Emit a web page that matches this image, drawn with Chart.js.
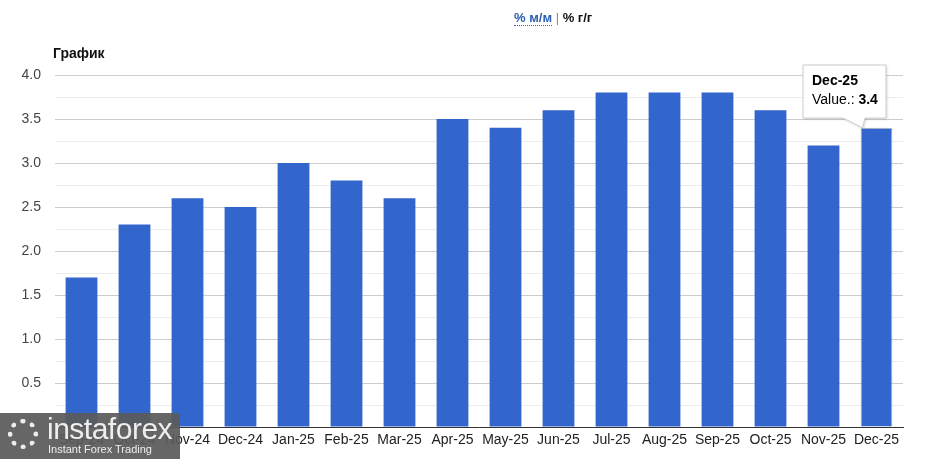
<!DOCTYPE html>
<html>
<head>
<meta charset="utf-8">
<script src="https://cdn.jsdelivr.net/npm/chart.js@4"></script>
<style>
    html, body { margin: 0; padding: 0; background: #fff; }
    #wrap { position: relative; width: 940px; height: 459px; font-family: Arial, "Liberation Sans", sans-serif; }
    #chart { position: absolute; left: 0; top: 0; }
    #toggle { position: absolute; left: 514px; top: 10px; font-size: 13px; font-weight: bold; }
    #toggle .mm { color: #2a5db0; border-bottom: 1px dotted #2a5db0; }
    #toggle .sep { color: #c08030; font-weight: normal; }
    #toggle .yy { color: #111; }
    #title { position: absolute; left: 53px; top: 45px; font-size: 14px; font-weight: bold; color: #111; }
    #logo { position: absolute; left: 0; top: 413px; width: 180px; height: 46px; background: rgba(90,90,90,0.93); color: #eee; }
    #logo .gear { position: absolute; left: 8px; top: 6px; width: 30px; height: 30px; border-radius: 50%; border: 5px dotted #eee; box-sizing: border-box; }
    #logo .big { position: absolute; left: 47px; top: -1px; font-size: 30px; letter-spacing: -0.5px; }
    #logo .small { position: absolute; left: 48px; top: 30px; font-size: 11px; }
</style>
</head>
<body>
<div id="wrap">
    <canvas id="chart" width="940" height="459"></canvas>
    <div id="toggle"><span class="mm">% м/м</span> <span class="sep">|</span> <span class="yy">% г/г</span></div>
    <div id="title">График</div>
    <div id="logo"><div class="gear"></div><div class="big">instaforex</div><div class="small">Instant Forex Trading</div></div>
</div>
<script>
    const months = ["Sep-24", "Oct-24", "Nov-24", "Dec-24", "Jan-25", "Feb-25", "Mar-25", "Apr-25",
                    "May-25", "Jun-25", "Jul-25", "Aug-25", "Sep-25", "Oct-25", "Nov-25", "Dec-25"];
    const values = [1.7, 2.3, 2.6, 2.5, 3.0, 2.8, 2.6, 3.5, 3.4, 3.6, 3.8, 3.8, 3.8, 3.6, 3.2, 3.4];
    const activeIndex = 15;

    // draws the always-visible tooltip of the last bar
    const fixedTooltip = {
        id: 'fixedTooltip',
        afterDraw(chart) {
            const ctx = chart.ctx;
            const bar = chart.getDatasetMeta(0).data[activeIndex];
            const x0 = 803, y0 = 65, w = 83, h = 53;
            ctx.save();
            ctx.shadowColor = 'rgba(0,0,0,0.18)';
            ctx.shadowBlur = 3;
            ctx.shadowOffsetX = 1;
            ctx.shadowOffsetY = 1;
            ctx.fillStyle = '#fff';
            ctx.strokeStyle = '#ccc';
            ctx.lineWidth = 1;
            ctx.beginPath();
            ctx.moveTo(x0, y0);
            ctx.lineTo(x0 + w, y0);
            ctx.lineTo(x0 + w, y0 + h);
            ctx.lineTo(x0 + 62, y0 + h);
            ctx.lineTo(bar.x - 14, bar.y);
            ctx.lineTo(x0 + 40, y0 + h);
            ctx.lineTo(x0, y0 + h);
            ctx.closePath();
            ctx.fill();
            ctx.shadowColor = 'transparent';
            ctx.stroke();
            ctx.fillStyle = '#000';
            ctx.textBaseline = 'middle';
            ctx.font = 'bold 14px Arial';
            ctx.fillText(months[activeIndex], x0 + 9, y0 + 16);
            ctx.font = '14px Arial';
            ctx.fillText('Value.: ', x0 + 9, y0 + 35);
            const lw = ctx.measureText('Value.: ').width;
            ctx.font = 'bold 14px Arial';
            ctx.fillText(String(values[activeIndex]), x0 + 9 + lw, y0 + 35);
            ctx.restore();
        }
    };

    new Chart(document.getElementById('chart'), {
        type: 'bar',
        data: {
            labels: months,
            datasets: [{
                label: 'Value.',
                data: values,
                backgroundColor: '#3366cc',
                borderColor: months.map((m, i) => i === activeIndex ? 'rgba(120,120,120,0.5)' : '#3366cc'),
                borderWidth: months.map((m, i) => i === activeIndex ? 1 : 0),
                barPercentage: 0.6,
                categoryPercentage: 1.0
            }]
        },
        options: {
            responsive: false,
            animation: false,
            layout: { padding: { left: 0, right: 37, top: 75, bottom: 0 } },
            plugins: {
                legend: { display: false },
                tooltip: { enabled: false }
            },
            scales: {
                x: {
                    grid: { display: false, drawTicks: false },
                    border: { color: '#333', width: 1 },
                    ticks: { color: '#222', font: { family: 'Arial', size: 14 }, padding: 5, maxRotation: 0, autoSkip: false },
                    afterFit: (axis) => { axis.height = 32; }
                },
                y: {
                    min: 0,
                    max: 4.0,
                    grid: {
                        drawTicks: false,
                        color: (c) => (Math.round(c.tick.value * 100) % 50 === 0) ? '#cccccc' : '#ececec'
                    },
                    border: { display: false },
                    ticks: {
                        stepSize: 0.25,
                        padding: 14,
                        color: '#444',
                        font: { family: 'Arial', size: 14 },
                        callback: (v) => (Math.round(v * 100) % 50 === 0 && v > 0) ? v.toFixed(1) : ''
                    },
                    afterFit: (axis) => { axis.width = 55; }
                }
            }
        },
        plugins: [fixedTooltip]
    });
</script>
</body>
</html>
